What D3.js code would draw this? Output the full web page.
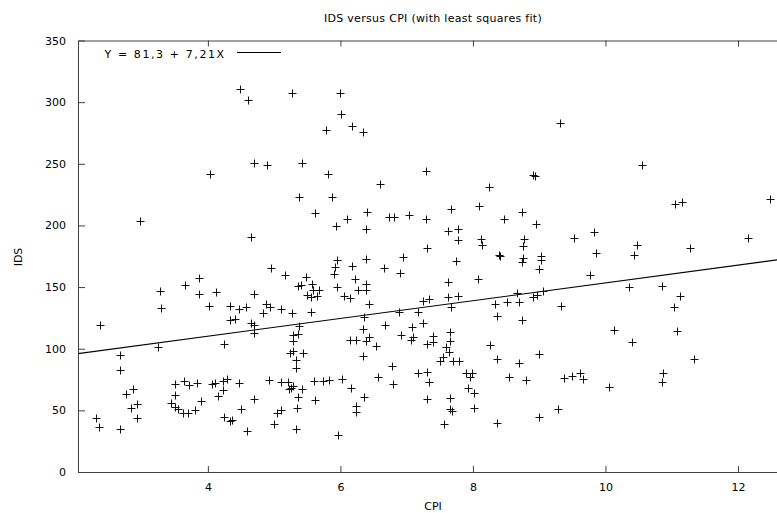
<!DOCTYPE html>
<html lang="en">
<head>
    <meta charset="UTF-8">
    <title>IDS versus CPI</title>
    <script src="https://d3js.org/d3.v7.min.js"></script>
    <style>
        body { margin: 0; background: #fff; }
        text { font-family: "DejaVu Sans", Verdana, sans-serif; font-size: 11px; fill: #000; }
    </style>
</head>
<body>
    <div id="chart"></div>

    <script>
        // values
        var cpi = [4.49, 4.61, 4.70, 4.03, 5.27, 5.99, 6.01, 5.78, 6.18, 6.34, 4.89, 5.42, 5.82, 6.59, 7.29, 9.31, 8.91, 8.93, 8.24, 10.55,
            2.98, 4.65, 2.37, 3.27, 3.29, 3.66, 3.86, 3.86, 4.13, 4.01, 4.34, 4.47, 4.57, 4.70, 4.34, 4.41, 4.65, 4.70,
            5.38, 5.88, 5.62, 6.10, 5.93, 6.40, 6.39, 6.73, 6.81, 7.04, 7.29, 7.31, 5.95, 6.39, 6.94, 5.92, 5.90, 6.18, 6.66, 6.90,
            4.95, 5.17, 5.48, 5.36, 5.41, 5.57, 5.59, 5.68, 5.50, 5.55, 5.64, 6.22, 5.95, 6.39, 6.27, 6.38, 6.05, 6.14,
            4.88, 4.94, 4.83, 5.11, 5.27, 5.55, 6.43, 7.25, 7.33, 6.36, 6.89, 7.17, 5.37, 6.34, 6.68, 7.08, 7.25,
            7.67, 8.09, 7.63, 7.77, 7.77, 8.47, 8.74, 8.95, 8.12, 8.14, 8.77, 8.75, 9.53, 9.82, 9.85, 7.74, 8.40, 8.41, 8.75, 8.74,
            9.02, 9.02, 8.99, 9.77, 7.63, 8.07, 7.63, 7.77, 7.67, 8.66, 8.91, 8.96, 9.06, 8.34, 8.52, 8.70, 9.33, 8.37, 8.74,
            11.05, 11.16, 12.49, 10.47, 10.43, 11.27, 12.15, 10.35, 10.85, 11.12, 11.04,
            4.69, 4.24, 3.25, 2.67, 2.67, 2.77, 2.87, 2.84, 2.93, 2.93, 2.31, 2.35, 2.67, 3.50, 3.64, 3.71, 3.84, 3.50, 3.45, 3.50,
            3.55, 3.62, 3.70, 3.80, 3.90, 4.06, 4.10, 4.23, 4.29, 4.23, 4.15, 4.47, 4.69, 4.50, 4.24, 4.34, 4.37, 4.59,
            5.29, 5.36, 5.28, 5.24, 5.29, 5.44, 5.33, 5.33, 6.14, 6.24, 6.38, 6.43, 6.53, 6.34, 6.91, 7.07, 7.10, 7.31,
            6.78, 6.56, 6.80, 7.17, 7.30, 7.33, 4.92, 5.10, 5.21, 5.28, 5.23, 5.25, 5.42, 5.36, 5.60, 5.73, 5.83, 6.03, 6.16,
            6.35, 6.24, 6.23, 5.62, 5.35, 5.10, 5.05, 5.00, 5.33, 5.96, 7.31,
            7.40, 7.65, 7.39, 7.65, 7.60, 7.64, 7.55, 7.51, 7.70, 7.79, 8.26, 8.37, 8.70, 8.99, 7.89, 7.98, 7.95, 8.54, 8.80,
            9.38, 9.49, 9.62, 9.66, 7.92, 8.02, 7.65, 7.66, 7.69, 8.02, 7.56, 8.37, 8.99, 9.29,
            10.13, 10.40, 11.08, 11.34, 10.87, 10.85, 10.05];
        var ids = [310.5, 301.9, 251.0, 241.6, 307.3, 307.3, 290.5, 277.5, 280.8, 275.6, 249.1, 251.0, 242.1, 233.4, 244.2, 283.4, 241.0, 239.8, 231.3, 249.1,
            203.7, 190.9, 119.5, 146.9, 132.8, 151.7, 157.2, 144.7, 145.8, 134.7, 134.7, 132.0, 133.6, 144.7, 123.1, 123.9, 120.7, 119.3,
            222.9, 222.9, 209.9, 205.3, 199.4, 211.0, 197.2, 207.2, 207.2, 208.3, 205.3, 181.8, 172.0, 172.6, 174.7, 166.1, 160.7, 166.9, 165.3, 161.5,
            165.3, 159.6, 158.0, 150.9, 151.7, 152.3, 147.7, 147.7, 143.6, 142.2, 143.1, 156.4, 150.1, 152.8, 147.9, 147.7, 143.1, 141.4,
            136.3, 134.1, 128.8, 132.0, 128.8, 130.1, 136.1, 138.8, 140.1, 125.5, 130.1, 129.6, 118.7, 116.0, 119.5, 117.7, 120.5,
            213.4, 216.1, 195.8, 197.4, 188.0, 205.3, 210.7, 201.2, 189.1, 184.2, 189.1, 183.4, 189.6, 195.0, 177.5, 171.2, 175.7, 174.9, 173.4, 170.4,
            175.3, 172.0, 165.0, 159.6, 153.9, 156.4, 142.2, 143.1, 133.6, 145.0, 142.2, 143.6, 146.9, 136.3, 137.7, 137.7, 134.9, 126.6, 123.3,
            217.5, 219.1, 221.3, 184.4, 176.3, 181.8, 189.6, 150.1, 150.9, 143.1, 134.1,
            112.5, 103.6, 101.7, 95.2, 82.8, 63.3, 67.6, 52.2, 54.9, 43.8, 44.1, 36.8, 35.1, 71.4, 73.8, 70.6, 72.2, 62.5, 55.7, 52.5,
            50.9, 48.1, 47.6, 50.3, 57.4, 71.2, 72.0, 74.1, 75.5, 66.5, 61.7, 72.5, 59.0, 51.1, 44.9, 41.6, 42.2, 33.5,
            110.9, 111.7, 106.1, 96.8, 98.2, 96.8, 90.9, 84.1, 107.1, 107.1, 106.3, 109.3, 102.2, 94.4, 110.9, 107.1, 109.3, 103.9,
            86.3, 77.3, 71.4, 80.6, 80.9, 73.0, 74.7, 73.0, 73.3, 70.0, 67.3, 68.4, 67.6, 61.1, 74.1, 74.1, 74.4, 75.5, 68.4,
            60.6, 53.8, 48.9, 58.4, 51.9, 50.3, 47.6, 38.7, 35.1, 29.8, 59.0,
            110.4, 113.4, 105.7, 106.3, 101.7, 97.1, 93.6, 90.3, 90.3, 90.3, 103.1, 91.4, 88.7, 95.7, 80.6, 80.1, 77.3, 77.3, 74.7,
            76.0, 78.1, 80.1, 75.5, 67.9, 64.3, 59.8, 51.1, 49.7, 51.9, 38.7, 39.5, 44.9, 51.1,
            115.2, 105.2, 114.2, 91.4, 80.1, 72.8, 69.2];

        var xTicks = [4, 6, 8, 10, 12];
        var yTicks = [0, 50, 100, 150, 200, 250, 300, 350];

        // least squares fit shown in the key
        var fitIntercept = 81.3;
        var fitSlope = 7.21;
        var fitLabel = "Y = 81,3 + 7,21X";

        var title = "IDS versus CPI (with least squares fit)";
        var xLabel = "CPI";
        var yLabel = "IDS";

        var width = 777;
        var height = 513;
        // plot box (window.top is read-only, so no bare "top" here)
        var plot = { left: 78, right: 777.75, top: 40.5, bottom: 472 };

        var svg = d3.select("#chart").append("svg")
            .attr("width", width)
            .attr("height", height);

        var x = d3.scaleLinear().domain([2.04, 12.6]).range([plot.left, plot.right]);
        var y = d3.scaleLinear().domain([0, 350]).range([plot.bottom, plot.top]);

        // axes, gnuplot style: ticks pointing inwards, mirrored on top
        var axisColor = "#404040";

        svg.append("g")
            .attr("transform", "translate(0," + plot.bottom + ")")
            .call(d3.axisBottom(x).tickValues(xTicks).tickSizeInner(-6).tickSizeOuter(0).tickPadding(11));
        svg.append("g")
            .attr("transform", "translate(0," + plot.top + ")")
            .call(d3.axisTop(x).tickValues(xTicks).tickSizeInner(-6).tickSizeOuter(0).tickFormat(""));
        svg.append("g")
            .attr("transform", "translate(" + plot.left + ",0)")
            .call(d3.axisLeft(y).tickValues(yTicks).tickSizeInner(-7).tickSizeOuter(0).tickPadding(12));

        svg.selectAll(".domain, .tick line").attr("stroke", axisColor);
        svg.selectAll(".tick text").attr("fill", "#000")
            .style("font-family", "'DejaVu Sans', Verdana, sans-serif").style("font-size", "11px");

        // fit line across the whole plot
        var xd = x.domain();
        svg.append("line")
            .attr("x1", x(xd[0])).attr("y1", y(fitIntercept + fitSlope * xd[0]))
            .attr("x2", x(xd[1])).attr("y2", y(fitIntercept + fitSlope * xd[1]))
            .attr("stroke", "#000")
            .attr("stroke-width", 1.1);

        // the "+" points
        var r = 4;
        svg.append("g").selectAll("path")
            .data(d3.range(cpi.length))
            .join("path")
            .attr("d", function (i) {
                var px = Math.round(x(cpi[i])) + 0.5, py = Math.round(y(ids[i])) + 0.5;
                return "M" + (px - r) + "," + py + "h" + (2 * r) + "M" + px + "," + (py - r) + "v" + (2 * r);
            })
            .attr("fill", "none")
            .attr("stroke", "#111")
            .attr("stroke-width", 1);

        // key
        svg.append("text")
            .attr("x", 104.5).attr("y", 58.3)
            .style("letter-spacing", "1.6px")
            .text(fitLabel);
        svg.append("line")
            .attr("x1", 237).attr("x2", 281)
            .attr("y1", 52.5).attr("y2", 52.5)
            .attr("stroke", "#000");

        // titles
        svg.append("text")
            .attr("x", 433).attr("y", 22)
            .attr("text-anchor", "middle")
            .style("letter-spacing", "0.3px")
            .text(title);
        svg.append("text")
            .attr("x", 433).attr("y", 510)
            .attr("text-anchor", "middle")
            .text(xLabel);
        svg.append("text")
            .attr("transform", "translate(22,257) rotate(-90)")
            .attr("text-anchor", "middle")
            .text(yLabel);
    </script>
</body>
</html>
